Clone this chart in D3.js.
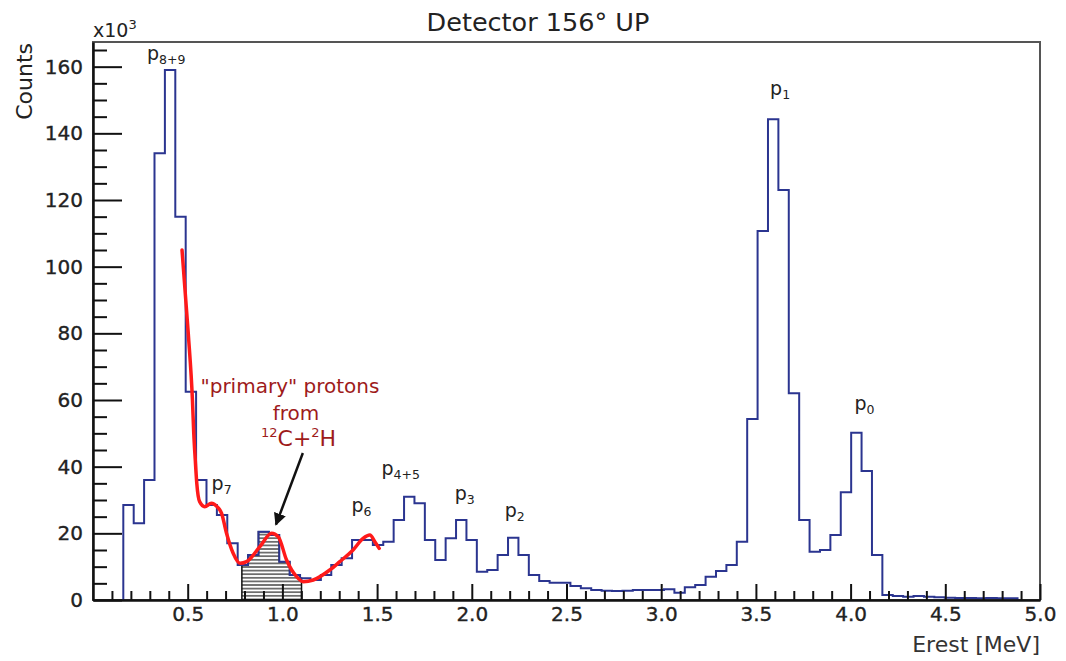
<!DOCTYPE html>
<html><head><meta charset="utf-8">
<script src="https://cdn.jsdelivr.net/npm/d3@7"></script>
<style>
body{margin:0;background:#fff}
svg{display:block}
text{font-family:"DejaVu Sans",sans-serif}
</style>
</head><body>
<svg id="chart" width="1066" height="661"></svg>
<script>
// ---------------- data ----------------
const chartTitle = "Detector 156° UP";
const xTitle = "Erest [MeV]";
const yTitle = "Counts";
const yExponent = "3";

// histogram: first bin low edge and bin width (MeV), counts in thousands
const binLow = 0.16;
const binWidth = 0.0549;
const counts = [
  28.5, 23, 36, 134, 159, 115, 62.5, 36, 28.5, 25.5,
  17, 10.5, 13.5, 20.5, 19.5, 11.5, 7.5, 6.5, 6, 7.5,
  10.5, 12.5, 18, 18, 16.5, 17.5, 24, 31, 29, 18,
  12, 18.5, 24, 18, 8.5, 9, 13.5, 18.7, 13.5, 7.5,
  5.7, 5.2, 5.2, 4.2, 3.5, 3.0, 2.8, 2.7, 2.8, 3.0,
  3.0, 3.0, 3.2, 2.2, 3.8, 4.5, 7, 8.7, 10.5, 17.5,
  54.3, 110.7, 144.2, 123, 62, 24, 14.5, 15, 19.5, 32.3,
  50.2, 38.7, 13.5, 1.5, 1.2, 1.0, 1.2, 1.0, 0.8, 0.7,
  0.6, 0.6, 0.5, 0.6, 0.5, 0.5
];

// red fit curve ("primary" protons)
const fitE = [0.470, 0.503, 0.525, 0.532, 0.540, 0.548, 0.563, 0.590, 0.625, 0.655, 0.679, 0.705, 0.740, 0.776, 0.811, 0.881, 0.943, 0.978, 1.022, 1.075, 1.110, 1.163, 1.250, 1.303, 1.373, 1.426, 1.462, 1.488, 1.511];
const fitV = [105, 80, 60, 50, 42, 35, 29.5, 28, 29, 28, 26, 20, 14, 11, 11.5, 16, 20, 19, 12, 7, 5.5, 6, 9, 11.5, 15, 18.5, 19.5, 17.5, 15.5];

// hatched region (MeV)
const hatchFrom = 0.786;
const hatchTo = 1.101;

// peak labels: subscript, anchor energy, anchor count
const peakSubs = ["8+9", "7", "6", "4+5", "3", "2", "1", "0"];
const peakE = [0.285, 0.626, 1.365, 1.523, 1.910, 2.174, 3.575, 4.020];
const peakV = [161.9, 32.9, 26.4, 37.4, 29.9, 24.9, 151.4, 56.9];

// annotation
const noteLines = ["\"primary\" protons", "from"];
const noteE = [1.040, 1.072];
const noteV = [62.1, 54.0];
const reactionE = 0.887;
const reactionV = 46.1;
const arrowFromE = 1.108, arrowFromV = 44.1;
const arrowToE = 0.966, arrowToV = 22.6;

const xTicks = [0.5, 1.0, 1.5, 2.0, 2.5, 3.0, 3.5, 4.0, 4.5, 5.0];
const yTicks = [0, 20, 40, 60, 80, 100, 120, 140, 160];

// ---------------- drawing ----------------
const svg = d3.select("#chart");
const L = 93, R = 1040, T = 42, B = 600;
const x = d3.scaleLinear().domain([0, 5]).range([L, R]);
const y = d3.scaleLinear().domain([0, 167.4]).range([B, T]);

svg.append("rect").attr("width", 1066).attr("height", 661).attr("fill", "#fff");

// hatch pattern
const defs = svg.append("defs");
const pat = defs.append("pattern").attr("id", "hatch").attr("patternUnits", "userSpaceOnUse")
  .attr("width", 8).attr("height", 3.6);
pat.append("line").attr("x1", 0).attr("x2", 8).attr("y1", 1.8).attr("y2", 1.8)
  .attr("stroke", "#222").attr("stroke-width", 1.2);

// frame
svg.append("rect").attr("x", L).attr("y", T).attr("width", R - L).attr("height", B - T)
  .attr("fill", "none").attr("stroke", "#555").attr("stroke-width", 2);

// hatched area under histogram
const bins = counts.map((c, i) => ({lo: binLow + i * binWidth, hi: binLow + (i + 1) * binWidth, c}));
const hatchPts = [[hatchFrom, 0]];
bins.forEach(b => {
  const a = Math.max(b.lo, hatchFrom), e = Math.min(b.hi, hatchTo);
  if (e > a) { hatchPts.push([a, b.c]); hatchPts.push([e, b.c]); }
});
hatchPts.push([hatchTo, 0]);
const lineXY = d3.line().x(d => x(d[0])).y(d => y(d[1]));
svg.append("path").attr("d", lineXY(hatchPts) + "Z")
  .attr("fill", "url(#hatch)").attr("stroke", "#111").attr("stroke-width", 1.5);

// histogram
const histPts = [[bins[0].lo, 0]];
bins.forEach(b => { histPts.push([b.lo, b.c]); histPts.push([b.hi, b.c]); });
histPts.push([bins[bins.length - 1].hi, 0]);
svg.append("path").attr("d", lineXY(histPts))
  .attr("fill", "none").attr("stroke", "#2b3590").attr("stroke-width", 2);

// fit curve
const fitLine = d3.line().x((d, i) => x(fitE[i])).y((d, i) => y(fitV[i])).curve(d3.curveMonotoneX);
svg.append("path").attr("d", fitLine(fitE))
  .attr("fill", "none").attr("stroke", "#ff1a1a").attr("stroke-width", 3.5)
  .attr("stroke-linecap", "round");

// axes
function styleAxis(g) {
  g.selectAll("line").attr("stroke", "#111").attr("stroke-width", 2);
  g.selectAll("path").attr("stroke", "#111").attr("stroke-width", 2.5);
  g.selectAll("text").attr("font-family", "DejaVu Sans").attr("font-size", 20).attr("fill", "#222")
    .attr("stroke", "#222").attr("stroke-width", 0.35);
}
const yMinor = d3.range(5, 167, 5).filter(v => v % 20 !== 0);
svg.append("g").attr("transform", `translate(${L},0)`)
  .call(d3.axisLeft(y).tickValues(yMinor).tickSizeInner(-14).tickSizeOuter(0).tickFormat(""))
  .call(g => { g.select(".domain").remove(); styleAxis(g); });
svg.append("g").attr("transform", `translate(${L},0)`)
  .call(d3.axisLeft(y).tickValues(yTicks).tickSizeInner(-29).tickSizeOuter(0).tickPadding(10).tickFormat(d3.format("d")))
  .call(styleAxis);

const xMinor = d3.range(0.1, 5, 0.1).filter(v => Math.abs(v * 2 - Math.round(v * 2)) > 1e-6);
svg.append("g").attr("transform", `translate(0,${B})`)
  .call(d3.axisBottom(x).tickValues(xMinor).tickSizeInner(-9).tickSizeOuter(0).tickFormat(""))
  .call(g => { g.select(".domain").remove(); styleAxis(g); });
svg.append("g").attr("transform", `translate(0,${B})`)
  .call(d3.axisBottom(x).tickValues(xTicks).tickSizeInner(-16).tickSizeOuter(0).tickPadding(7).tickFormat(d3.format(".1f")))
  .call(styleAxis);

// titles
svg.append("text").attr("x", 538).attr("y", 31).attr("text-anchor", "middle")
  .attr("font-size", 25.5).attr("fill", "#222").text(chartTitle);
svg.append("text").attr("x", R).attr("y", 652).attr("text-anchor", "end")
  .attr("font-size", 22).attr("fill", "#333").text(xTitle);
svg.append("text").attr("transform", `translate(32,${T + 1}) rotate(-90)`).attr("text-anchor", "end")
  .attr("font-size", 22).attr("fill", "#222").text(yTitle);
const ex = svg.append("text").attr("x", L).attr("y", 37).attr("font-size", 19).attr("fill", "#222");
ex.append("tspan").text("x10");
ex.append("tspan").attr("font-size", 13).attr("dy", -8).text(yExponent);

// peak labels
peakSubs.forEach((s, i) => {
  const t = svg.append("text").attr("x", x(peakE[i])).attr("y", y(peakV[i]))
    .attr("font-size", 19).attr("fill", "#222");
  t.append("tspan").text("p");
  t.append("tspan").attr("font-size", 12.5).attr("dy", 4).text(s);
});

// annotation
noteLines.forEach((s, i) => {
  svg.append("text").attr("x", x(noteE[i])).attr("y", y(noteV[i])).attr("text-anchor", "middle")
    .attr("font-size", 20).attr("fill", "#9e1b1b").text(s);
});
const rt = svg.append("text").attr("x", x(reactionE)).attr("y", y(reactionV))
  .attr("font-size", 22).attr("fill", "#9e1b1b");
rt.append("tspan").attr("font-size", 13).attr("dy", -9).text("12");
rt.append("tspan").attr("dy", 9).text("C+");
rt.append("tspan").attr("font-size", 13).attr("dy", -9).text("2");
rt.append("tspan").attr("dy", 9).text("H");

// arrow
defs.append("marker").attr("id", "arr").attr("viewBox", "0 0 10 10").attr("refX", 9).attr("refY", 5)
  .attr("markerWidth", 5).attr("markerHeight", 5).attr("orient", "auto")
  .append("path").attr("d", "M0,0 L10,5 L0,10 z").attr("fill", "#111");
svg.append("line")
  .attr("x1", x(arrowFromE)).attr("y1", y(arrowFromV))
  .attr("x2", x(arrowToE)).attr("y2", y(arrowToV))
  .attr("stroke", "#111").attr("stroke-width", 2.5).attr("marker-end", "url(#arr)");
</script>
</body></html>
